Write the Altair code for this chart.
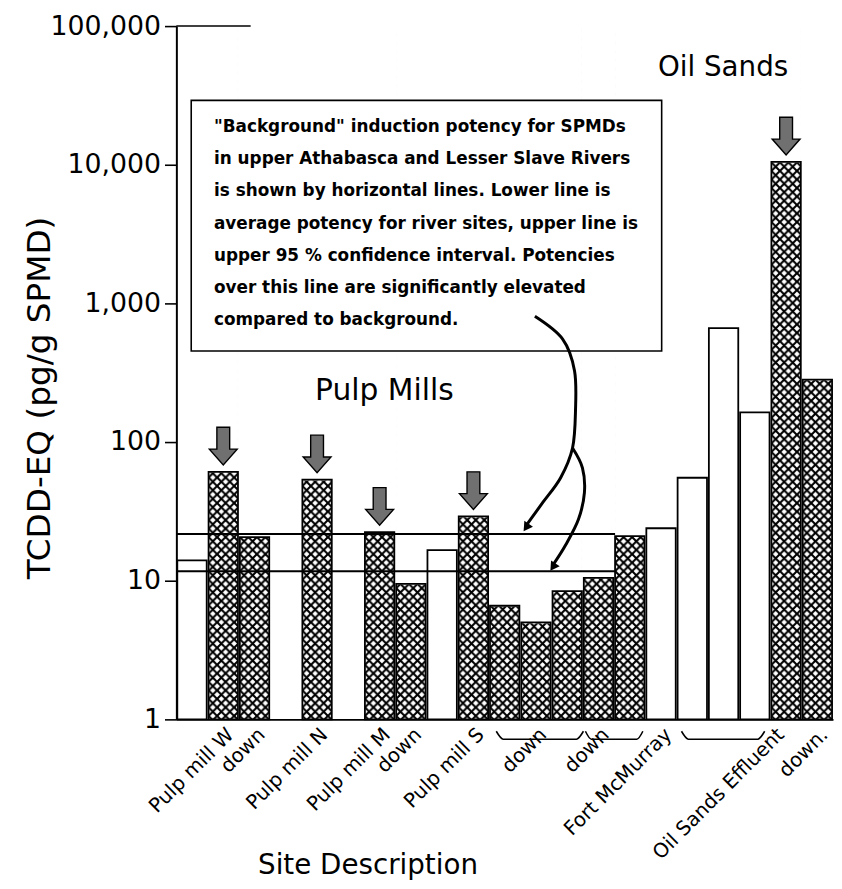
import base64
import json
import altair as alt
import pandas as pd

# ---------------- data ----------------
slot_ids = list(range(21))
potency = [14, 61, 20.6, None, 53.5, None, 22.4, 9.5, 16.6, 29.1, 6.6, 5.0,
           8.4, 10.5, 21, 23.9, 55.3, 663, 164, 10500, 282]
bar_kind = ["open", "hatched", "hatched", None, "hatched", None, "hatched",
            "hatched", "open", "hatched", "hatched", "hatched", "hatched",
            "hatched", "hatched", "open", "open", "open", "open", "hatched",
            "hatched"]
site_label_pos = [1, 2, 4, 6, 7, 9, 11, 13, 15, 18.6, 20]
site_label_text = ["Pulp mill W", "down", "Pulp mill N", "Pulp mill M", "down",
                   "Pulp mill S", "down", "down", "Fort McMurray",
                   "Oil Sands Effluent", "down."]
elevated_slots = [1, 4, 6, 9, 19]
background_values = [11.7, 21.7]        # mean, upper 95 % CI
background_end_slot = 13.53
y_ticks = [1, 10, 100, 1000, 10000, 100000]
note_lines = [
    '"Background" induction potency for SPMDs',
    "in upper Athabasca and Lesser Slave Rivers",
    "is shown by horizontal lines.  Lower line is",
    "average potency for river sites, upper line is",
    "upper 95 % confidence interval.  Potencies",
    "over this line are significantly elevated",
    "compared to background.",
]

# annotation stroke paths (pixels inside plot area)
wave_seg = [0] * 8 + [1] * 6
wave_x = [362, 390, 402, 403, 400, 388, 370, 354, 400, 410, 412, 406, 393, 381]
wave_y = [293, 316, 348, 388, 426, 456, 481, 503, 426, 446, 471, 498, 524, 543]
head_x = [354, 381]
head_y = [505, 545]
brace_seg = [0] * 4 + [1] * 4 + [2] * 4
brace_x = [323, 330, 404, 411, 413, 419, 465, 471, 510, 517, 587, 594]
brace_y = [712, 720, 720, 712, 712, 720, 720, 712, 712, 720, 720, 712]

# ---------------- layout ----------------
W, H = 663, 700
HALF = 0.47
bw = round(W / 21 * 2 * HALF, 2)

bars = pd.DataFrame({"slot": slot_ids, "value": potency, "kind": bar_kind})
bars = bars.dropna(subset=["value"])
open_bars = bars[bars.kind == "open"]
hatched_bars = bars[bars.kind == "hatched"]
flag_df = bars[bars.slot.isin(elevated_slots)]
lines_df = pd.DataFrame({"value": background_values,
                         "xs": [-0.5] * 2, "xe": [background_end_slot] * 2})
wave_df = pd.DataFrame({"seg": wave_seg, "px": wave_x, "py": wave_y,
                        "i": list(range(len(wave_x)))})
head_df = pd.DataFrame({"px": head_x, "py": head_y})
brace_df = pd.DataFrame({"seg": brace_seg, "px": brace_x, "py": brace_y,
                         "i": list(range(len(brace_x)))})
one = pd.DataFrame({"a": [0]})

hatch_svg = (
    f'<svg xmlns="http://www.w3.org/2000/svg" width="{bw}" height="{H}" '
    f'viewBox="0 0 {bw} {H}"><defs><pattern id="h" width="8.6" height="8.6" '
    'patternUnits="userSpaceOnUse"><rect width="8.6" height="8.6" fill="#fff"/>'
    '<path d="M-2,-2L10.6,10.6M10.6,-2L-2,10.6" stroke="#000" '
    'stroke-width="2.1"/>'
    f'</pattern></defs><rect width="{bw}" height="{H}" fill="url(#h)"/></svg>'
)
hatch_uri = "data:image/svg+xml;base64," + base64.b64encode(
    hatch_svg.encode()).decode()

FONT = "DejaVu Sans"
xs = alt.Scale(domain=[-0.5, 20.5], nice=False, zero=False)
ys = alt.Scale(type="log", domain=[1, 100000], nice=False)

label_expr = (json.dumps(site_label_text) + "[indexof("
              + json.dumps(site_label_pos) + ", datum.value)]")
x_axis = alt.Axis(
    values=site_label_pos,
    labelExpr=label_expr, labelAngle=-45, labelAlign="right",
    labelBaseline="middle", labelFont=FONT, labelFontSize=20,
    labelColor="black", labelPadding=12, labelOffset=7, labelOverlap=False,
    labelBound=False, labelFlush=False, ticks=False, grid=False,
    domainColor="black", domainWidth=2,
    title="Site Description", titleFont=FONT, titleFontSize=28,
    titleFontWeight="normal", titleColor="black", titleX=193, titleY=148,
    titleAlign="center", titleBaseline="middle",
)
y_axis = alt.Axis(
    values=y_ticks, format=",", labelFont=FONT, labelFontSize=27,
    labelColor="black", labelPadding=4, tickSize=12, tickWidth=1.6,
    tickColor="black", domainColor="black", domainWidth=2, grid=False,
    labelBaseline="middle",
    title="TCDD-EQ (pg/g SPMD)", titleFont=FONT, titleFontSize=33,
    titleFontWeight="normal", titleColor="black", titleX=-138, titleY=375,
    titleAlign="center", titleBaseline="middle", titleAngle=270,
)

def xpos(chart):
    return chart.transform_calculate(
        x0=f"datum.slot - {HALF}", x1=f"datum.slot + {HALF}")

hatch_img = xpos(alt.Chart(hatched_bars)).mark_image(aspect=False).encode(
    x=alt.X("x0:Q", scale=xs),
    x2="x1:Q",
    y=alt.Y(datum=100000, type="quantitative", scale=ys),
    y2=alt.Y2(datum=1),
    url=alt.value(hatch_uri),
)
hatch_mask = xpos(alt.Chart(hatched_bars)).mark_rect(
    fill="white", stroke="white", strokeWidth=1.5).encode(
    x=alt.X("x0:Q", scale=xs), x2="x1:Q",
    y=alt.Y("value:Q", scale=ys), y2=alt.Y2(datum=100000),
)
open_rect = xpos(alt.Chart(open_bars)).mark_rect(
    fill="white", stroke="black", strokeWidth=1.8).encode(
    x=alt.X("x0:Q", scale=xs, axis=x_axis), x2="x1:Q",
    y=alt.Y("value:Q", scale=ys, axis=y_axis), y2=alt.Y2(datum=1),
)
hatch_outline = xpos(alt.Chart(hatched_bars)).mark_rect(
    fill="transparent", stroke="black", strokeWidth=1.8).encode(
    x=alt.X("x0:Q", scale=xs), x2="x1:Q",
    y=alt.Y("value:Q", scale=ys), y2=alt.Y2(datum=1),
)
bg_lines = alt.Chart(lines_df).mark_rule(color="black", strokeWidth=2).encode(
    x=alt.X("xs:Q", scale=xs), x2="xe:Q",
    y=alt.Y("value:Q", scale=ys),
)
top_rule = alt.Chart(one).mark_rule(color="black", strokeWidth=1.5).encode(
    x=alt.value(0), x2=alt.value(75), y=alt.value(0))

arrow_path = "M-0.34,-1L0.34,-1L0.34,0.16L0.74,0.16L0,1L-0.74,0.16L-0.34,0.16Z"
flags = alt.Chart(flag_df).mark_point(
    shape=arrow_path, size=1444, filled=True, fill="#707070", stroke="black",
    strokeWidth=1.4, opacity=1, yOffset=-26).encode(
    x=alt.X("slot:Q", scale=xs),
    y=alt.Y("value:Q", scale=ys),
)

note_box = alt.Chart(one).mark_rect(
    fill="white", stroke="black", strokeWidth=1.6).encode(
    x=alt.value(15), x2=alt.value(490), y=alt.value(75), y2=alt.value(328))
note_text = alt.Chart(one).mark_text(
    align="left", baseline="top", font=FONT, fontWeight="bold", fontSize=17,
    lineHeight=32.5, color="black").encode(
    x=alt.value(38), y=alt.value(94), text=alt.value(note_lines))

pulp_text = alt.Chart(one).mark_text(
    font=FONT, fontSize=30, color="black", baseline="middle").encode(
    x=alt.value(210), y=alt.value(369), text=alt.value("Pulp Mills"))
oil_text = alt.Chart(one).mark_text(
    font=FONT, fontSize=28, color="black", baseline="middle").encode(
    x=alt.value(552), y=alt.value(42), text=alt.value("Oil Sands"))

waves = alt.Chart(wave_df).mark_line(
    color="black", strokeWidth=3, interpolate="cardinal").encode(
    x=alt.X("px:Q", scale=None),
    y=alt.Y("py:Q", scale=None),
    detail="seg:N", order="i:Q")
heads = alt.Chart(head_df).mark_point(
    shape="triangle", angle=214, size=110, filled=True, color="black",
    opacity=1).encode(
    x=alt.X("px:Q", scale=None),
    y=alt.Y("py:Q", scale=None))
braces = alt.Chart(brace_df).mark_line(
    color="black", strokeWidth=1.6, interpolate="monotone").encode(
    x=alt.X("px:Q", scale=None),
    y=alt.Y("py:Q", scale=None),
    detail="seg:N", order="i:Q")

chart = alt.layer(
    hatch_img, hatch_mask, open_rect, hatch_outline, bg_lines, top_rule,
    flags, note_box, note_text, pulp_text, oil_text, waves, heads, braces,
).properties(
    width=W, height=H,
    autosize=alt.AutoSizeParams(type="none"),
    padding={"left": 170, "top": 14, "right": 1, "bottom": 167},
    background="white",
).configure_view(stroke="transparent")

chart.save("out.html", embed_options={"renderer": "svg", "actions": False})
